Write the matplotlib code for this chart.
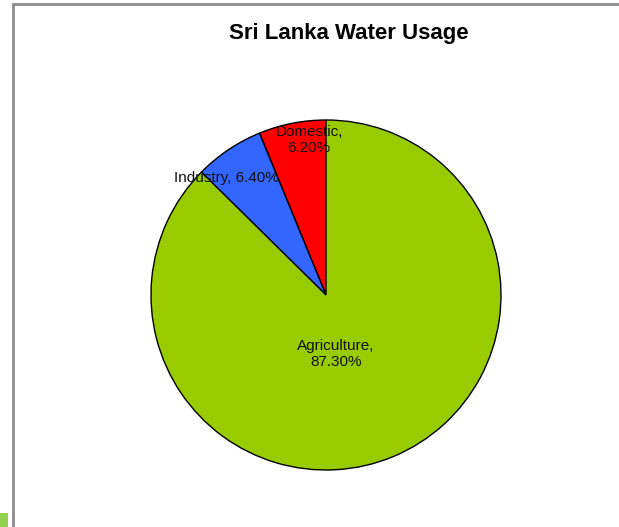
import numpy as np
import matplotlib.pyplot as plt
from matplotlib.patches import Rectangle

categories = ["Domestic", "Industry", "Agriculture"]
shares = [6.2, 6.4, 87.3]
colors = ["#ff0000", "#3366ff", "#99cc00"]

plt.rcParams['font.family'] = ['Liberation Sans', 'DejaVu Sans']

W, H = 619, 527
fig = plt.figure(figsize=(W / 100, H / 100), dpi=100)

# slide-like frame and the little green corner block
fig.add_artist(Rectangle((13 / W, -0.1), 1.2, 1 - 4 / H + 0.1, transform=fig.transFigure,
                         fill=False, edgecolor="#8c8c8c", linewidth=2))
fig.add_artist(Rectangle((0, 0), 8 / W, 14 / H, transform=fig.transFigure,
                         facecolor="#92d050", edgecolor="none"))

cx, cy, r = 326, 295, 175
ax = fig.add_axes([(cx - r) / W, (H - cy - r) / H, 2 * r / W, 2 * r / H])
wedges, _ = ax.pie(shares, colors=colors, startangle=90, counterclock=True,
                   radius=1, wedgeprops=dict(edgecolor="black", linewidth=1))
ax.set_xlim(-1, 1)
ax.set_ylim(-1, 1)
ax.set_aspect("equal")
ax.axis("off")

# labels placed along each wedge's mid angle
dist = [0.89, 0.88, 0.34]
shift = [-5, 6.5, -13]  # small angular nudges, degrees
labels = ["Domestic,\n6.20%", "Industry, 6.40%", "Agriculture,\n87.30%"]
for w, d, s, lab in zip(wedges, dist, shift, labels):
    mid = np.deg2rad((w.theta1 + w.theta2) / 2 + s)
    ax.text(d * np.cos(mid), d * np.sin(mid), lab, ha="center", va="center",
            fontsize=11, linespacing=1.2, color="#111111")

fig.text(349 / W, 1 - 34 / H, "Sri Lanka Water Usage", ha="center", va="center",
         fontsize=16, fontweight="bold")

fig.savefig("out.png", dpi=100)
